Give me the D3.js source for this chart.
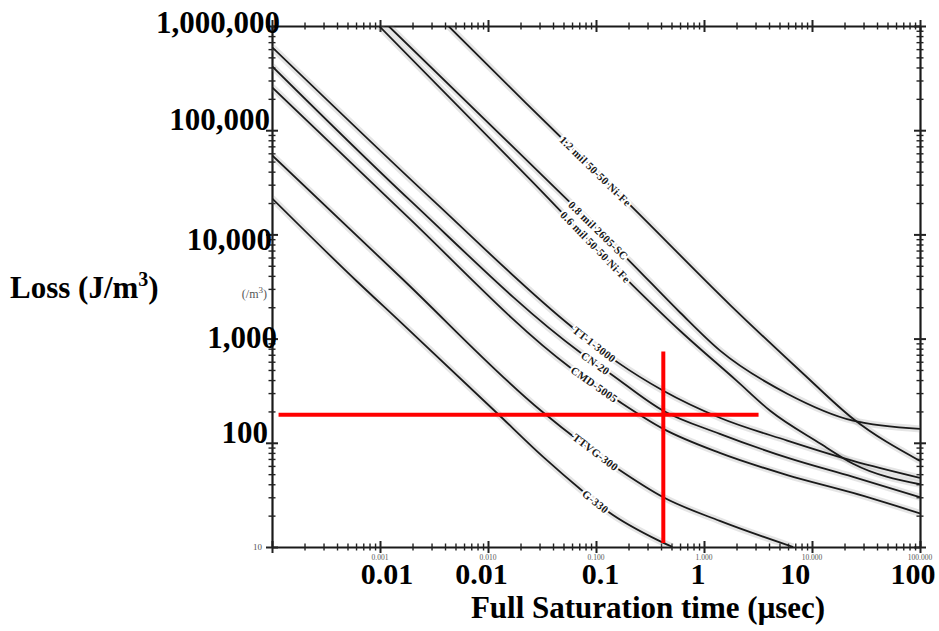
<!DOCTYPE html>
<html>
<head>
<meta charset="utf-8">
<script src="https://cdn.jsdelivr.net/npm/d3@7"></script>
<style>
  body { margin: 0; background: #fff; }
  svg { display: block; }
  .bold { font-family: "Liberation Serif", "Times New Roman", serif; font-weight: bold; fill: #000; }
  .scan { font-family: "Liberation Serif", "Times New Roman", serif; fill: #555; }
  .curve-label { font-family: "Liberation Serif", serif; font-weight: bold; font-size: 11px; fill: #1a1a1a;
                 stroke: #fff; stroke-width: 4px; paint-order: stroke; letter-spacing: 0.3px; }
</style>
</head>
<body>
<div id="chart"></div>
<script>
// time in usec, loss in J/m^3
var names = ["1.2 mil 50-50 Ni-Fe", "0.8 mil 2605-SC", "0.6 mil 50-50 Ni-Fe",
             "TT-1-3000", "CN-20", "CMD-5005", "TTVG-300", "G-330"];

var t12 = [0.0043, 0.022, 0.22, 1.75, 8.3, 24, 100];
var l12 = [1000000, 186000, 18000, 2100, 460, 170, 67];

var t08 = [0.0012, 0.025, 0.21, 0.6, 1.4, 5.9, 24, 100];
var l08 = [1000000, 47000, 5400, 1780, 770, 296, 163, 136];

var t06 = [0.00098, 0.025, 0.22, 0.6, 2.0, 4.1, 12, 24, 100];
var l06 = [1000000, 33000, 3230, 1190, 395, 203, 98, 63, 40];

var tTT = [0.0001, 0.0031, 0.058, 0.16, 0.42, 1.4, 5.9, 24, 100];
var lTT = [628000, 21200, 1330, 588, 316, 174, 105, 67, 46];

var tCN = [0.0001, 0.0019, 0.072, 0.136, 0.42, 1.4, 5.9, 24, 100];
var lCN = [412000, 21200, 733, 461, 203, 122, 72, 47, 30];

var tCMD = [0.0001, 0.00156, 0.058, 0.16, 0.42, 1.4, 5.9, 24, 100];
var lCMD = [259000, 17000, 526, 253, 136, 80, 49, 33, 21];

var tTTVG = [0.0001, 0.00156, 0.031, 0.16, 0.42, 1.4, 6.7];
var lTTVG = [57500, 3860, 203, 56, 30, 17.8, 10];

var tG = [0.0001, 0.0006, 0.00156, 0.0123, 0.033, 0.075, 0.127, 0.39, 0.51];
var lG = [22200, 3610, 1430, 190, 72, 34.5, 22.2, 11.4, 10];

var labelAt = [0.099, 0.105, 0.099, 0.0965, 0.099, 0.0965, 0.099, 0.099];

// red marker lines
var markTime = 0.42, markLoss = 186;
var markTimeSpan = [0.000115, 3.2];
var markLossSpan = [10.9, 750];

// tick labels
var yLabelValues = [1000000, 100000, 10000, 1000, 100];
var yLabelText = ["1,000,000", "100,000", "10,000", "1,000", "100"];
var xLabelText = ["0.01", "0.01", "0.1", "1", "10", "100"];
var xLabelAt = [0.00116, 0.0087, 0.11, 0.88, 7, 86];
var scanXValues = [0.001, 0.01, 0.1, 1, 10, 100];
var scanXText = ["0.001", "0.010", "0.100", "1.000", "10.000", "100.000"];

var width = 939, height = 631;

var x = d3.scaleLog().domain([0.0001, 100]).range([272, 920]);
var y = d3.scaleLog().domain([10, 1000000]).range([547, 26]);

var svg = d3.select("#chart").append("svg")
    .attr("width", width)
    .attr("height", height);

svg.append("clipPath").attr("id", "plot")
  .append("rect").attr("x", 272).attr("y", 26).attr("width", 648).attr("height", 521);

var series = [[t12, l12], [t08, l08], [t06, l06], [tTT, lTT], [tCN, lCN],
              [tCMD, lCMD], [tTTVG, lTTVG], [tG, lG]].map(function(s, i) {
  return { name: names[i], pts: s[0].map(function(t, j) { return [t, s[1][j]]; }), at: labelAt[i] };
});

// ticks at 1..9 of every decade
var xTicks = [], yTicks = [];
for (var e = -4; e < 2; e++) for (var k = 1; k < 10; k++) xTicks.push(k * Math.pow(10, e));
xTicks.push(100);
for (var e2 = 1; e2 < 6; e2++) for (var k2 = 1; k2 < 10; k2++) yTicks.push(k2 * Math.pow(10, e2));
yTicks.push(1000000);

function isMajor(d) {
  var l = Math.log10(d);
  return Math.abs(l - Math.round(l)) < 1e-6;
}
function tickLen(d) { return isMajor(d) ? 6 : 3.5; }

function styleAxis(g, horizontal) {
  g.select(".domain").attr("stroke", "#1a1a1a").attr("stroke-width", 2.2);
  g.selectAll(".tick line")
    .attr("stroke", "#222")
    .attr("stroke-width", function(d) { return isMajor(d) ? 2 : 1.4; })
    .attr(horizontal ? "y1" : "x1", function(d) { return -tickLen(d); })
    .attr(horizontal ? "y2" : "x2", function(d) { return tickLen(d); });
}

svg.append("g").attr("transform", "translate(0,547)")
  .call(d3.axisBottom(x).tickValues(xTicks).tickFormat("").tickSizeOuter(0))
  .call(function(g) { styleAxis(g, true); });
svg.append("g").attr("transform", "translate(0,26)")
  .call(d3.axisTop(x).tickValues(xTicks).tickFormat("").tickSizeOuter(0))
  .call(function(g) { styleAxis(g, true); });
svg.append("g").attr("transform", "translate(272,0)")
  .call(d3.axisLeft(y).tickValues(yTicks).tickFormat("").tickSizeOuter(0))
  .call(function(g) { styleAxis(g, false); });
svg.append("g").attr("transform", "translate(920,0)")
  .call(d3.axisRight(y).tickValues(yTicks).tickFormat("").tickSizeOuter(0))
  .call(function(g) { styleAxis(g, false); });

var line = d3.line()
    .x(function(d) { return x(d[0]); })
    .y(function(d) { return y(d[1]); })
    .curve(d3.curveMonotoneX);

var curves = svg.append("g").attr("clip-path", "url(#plot)");

// grey speckle halo of the scan
curves.selectAll("path.halo")
  .data(series)
  .enter()
  .append("path")
  .attr("class", "halo")
  .attr("d", function(d) { return line(d.pts); })
  .attr("fill", "none")
  .attr("stroke", "#888")
  .attr("stroke-opacity", 0.22)
  .attr("stroke-width", 7);

curves.selectAll("path.curve")
  .data(series)
  .enter()
  .append("path")
  .attr("class", "curve")
  .attr("d", function(d) { return line(d.pts); })
  .attr("fill", "none")
  .attr("stroke", "#1a1a1a")
  .attr("stroke-width", 1.8);

// position on a curve (log-linear between points)
function pointAt(pts, t) {
  for (var i = 0; i < pts.length - 1; i++) {
    if (t >= pts[i][0] && t <= pts[i + 1][0]) {
      var f = (Math.log(t) - Math.log(pts[i][0])) / (Math.log(pts[i + 1][0]) - Math.log(pts[i][0]));
      var ly = Math.log(pts[i][1]) + f * (Math.log(pts[i + 1][1]) - Math.log(pts[i][1]));
      return [x(t), y(Math.exp(ly))];
    }
  }
  return [x(t), y(pts[0][1])];
}

svg.selectAll("text.curve-label")
  .data(series)
  .enter()
  .append("text")
  .attr("class", "curve-label")
  .attr("text-anchor", "middle")
  .attr("dominant-baseline", "central")
  .attr("transform", function(d) {
    var p = pointAt(d.pts, d.at);
    var a = pointAt(d.pts, d.at / 1.3), b = pointAt(d.pts, d.at * 1.3);
    var ang = Math.atan2(b[1] - a[1], b[0] - a[0]) * 180 / Math.PI;
    return "translate(" + p[0] + "," + p[1] + ") rotate(" + ang + ")";
  })
  .text(function(d) { return d.name; });

// red marker lines
svg.append("line")
  .attr("x1", x(markTimeSpan[0])).attr("x2", x(markTimeSpan[1]))
  .attr("y1", y(markLoss)).attr("y2", y(markLoss))
  .attr("stroke", "#ff0000").attr("stroke-width", 4);
svg.append("line")
  .attr("x1", x(markTime)).attr("x2", x(markTime))
  .attr("y1", y(markLossSpan[1])).attr("y2", y(markLossSpan[0]))
  .attr("stroke", "#ff0000").attr("stroke-width", 4);

// small original scan labels
svg.selectAll("text.scanx")
  .data(scanXValues)
  .enter()
  .append("text")
  .attr("class", "scan")
  .attr("x", function(d) { return x(d); })
  .attr("y", 560)
  .attr("text-anchor", "middle")
  .attr("font-size", 7.5)
  .text(function(d, i) { return scanXText[i]; });

svg.append("text").attr("class", "scan")
  .attr("x", 262).attr("y", 550).attr("text-anchor", "end").attr("font-size", 9)
  .text("10");

svg.append("text").attr("class", "scan")
  .attr("x", 267).attr("y", 298).attr("text-anchor", "end").attr("font-size", 12)
  .html("(/m<tspan dy='-5' font-size='9'>3</tspan><tspan dy='5'>)</tspan>");

// overlaid bold tick labels
var yLabelNudge = [[8, 7], [-2, 0], [0, 16], [5, 9], [-4, 0]];
svg.selectAll("text.ylab")
  .data(yLabelValues)
  .enter()
  .append("text")
  .attr("class", "bold")
  .attr("font-size", 31)
  .attr("text-anchor", "end")
  .attr("x", function(d, i) { return 272 + yLabelNudge[i][0]; })
  .attr("y", function(d, i) { return y(d) + yLabelNudge[i][1]; })
  .text(function(d, i) { return yLabelText[i]; });

svg.selectAll("text.xlab")
  .data(xLabelAt)
  .enter()
  .append("text")
  .attr("class", "bold")
  .attr("font-size", 30)
  .attr("text-anchor", "middle")
  .attr("x", function(d) { return x(d); })
  .attr("y", 584)
  .text(function(d, i) { return xLabelText[i]; });

svg.append("text")
  .attr("class", "bold")
  .attr("font-size", 31)
  .attr("text-anchor", "middle")
  .attr("x", 648)
  .attr("y", 618)
  .text("Full Saturation time (\u03bcsec)");

svg.append("text")
  .attr("class", "bold")
  .attr("font-size", 31)
  .attr("x", 10)
  .attr("y", 298)
  .html("Loss (J/m<tspan dy='-12' font-size='20'>3</tspan><tspan dy='12'>)</tspan>");
</script>
</body>
</html>
